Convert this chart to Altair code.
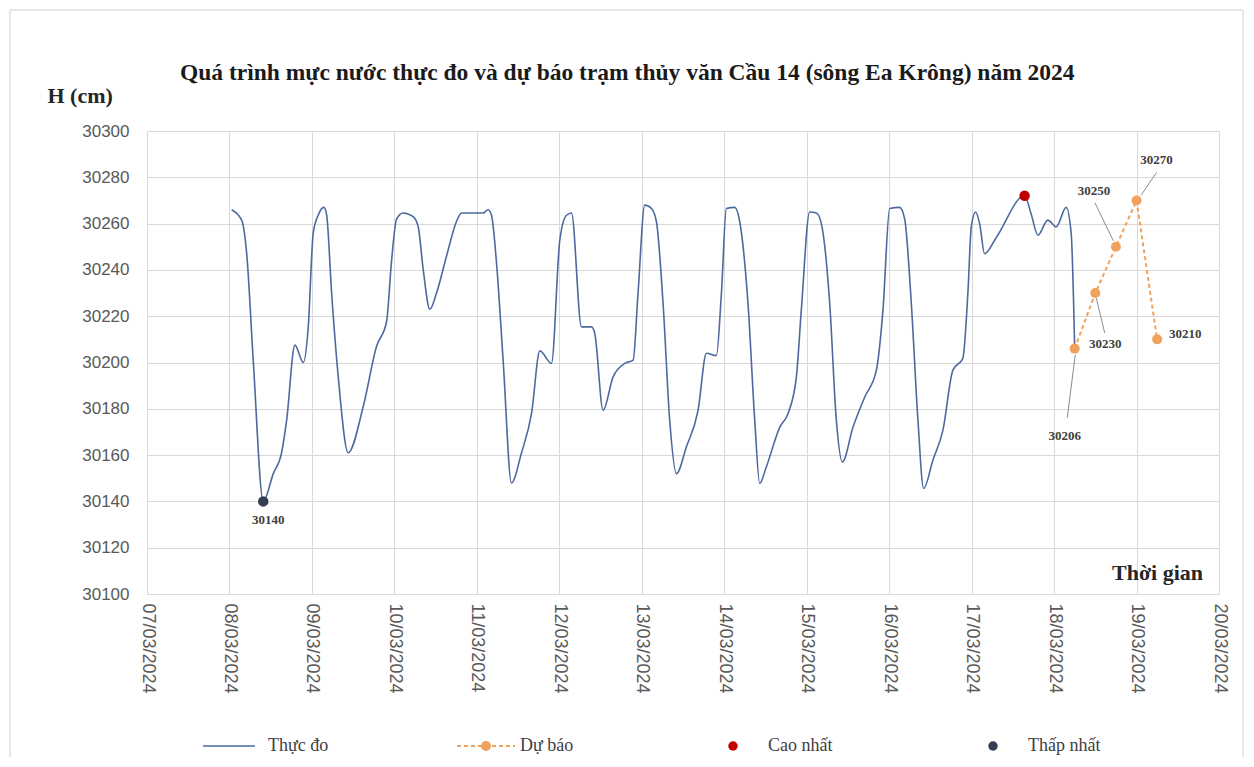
import altair as alt
import pandas as pd
import numpy as np

# ---------------- data ----------------
obs_time = [
    "2024-03-08 00:39", "2024-03-08 03:33", "2024-03-08 05:01", "2024-03-08 06:55", "2024-03-08 09:50",
    "2024-03-08 12:45", "2024-03-08 15:10", "2024-03-08 16:38", "2024-03-08 19:03", "2024-03-08 21:29",
    "2024-03-08 22:55", "2024-03-09 00:23", "2024-03-09 01:49", "2024-03-09 03:29", "2024-03-09 04:16",
    "2024-03-09 05:44", "2024-03-09 07:39", "2024-03-09 10:34", "2024-03-09 14:56", "2024-03-09 18:49",
    "2024-03-09 21:43", "2024-03-09 23:11", "2024-03-10 00:39", "2024-03-10 02:34", "2024-03-10 05:28",
    "2024-03-10 06:56", "2024-03-10 08:24", "2024-03-10 10:19", "2024-03-10 12:16", "2024-03-10 15:11",
    "2024-03-10 18:06", "2024-03-10 19:32", "2024-03-11 01:49", "2024-03-11 03:17", "2024-03-11 04:16",
    "2024-03-11 05:44", "2024-03-11 07:39", "2024-03-11 10:05", "2024-03-11 12:58", "2024-03-11 15:55",
    "2024-03-11 18:20", "2024-03-11 21:43", "2024-03-12 00:09", "2024-03-12 02:05", "2024-03-12 03:33",
    "2024-03-12 06:27", "2024-03-12 09:22", "2024-03-12 10:19", "2024-03-12 12:45", "2024-03-12 15:39",
    "2024-03-12 19:03", "2024-03-12 21:29", "2024-03-12 22:55", "2024-03-13 00:52", "2024-03-13 02:50",
    "2024-03-13 04:16", "2024-03-13 06:12", "2024-03-13 08:08", "2024-03-13 10:05", "2024-03-13 13:00",
    "2024-03-13 16:24", "2024-03-13 18:49", "2024-03-13 21:43", "2024-03-13 23:11", "2024-03-14 00:37",
    "2024-03-14 03:03", "2024-03-14 04:31", "2024-03-14 06:55", "2024-03-14 08:53", "2024-03-14 10:19",
    "2024-03-14 12:16", "2024-03-14 16:09", "2024-03-14 18:35", "2024-03-14 21:00", "2024-03-14 22:26",
    "2024-03-15 00:52", "2024-03-15 02:49", "2024-03-15 04:16", "2024-03-15 06:42", "2024-03-15 08:38",
    "2024-03-15 10:23", "2024-03-15 13:28", "2024-03-15 16:52", "2024-03-15 20:17", "2024-03-15 22:12",
    "2024-03-16 00:09", "2024-03-16 03:03", "2024-03-16 04:31", "2024-03-16 06:27", "2024-03-16 08:23",
    "2024-03-16 10:02", "2024-03-16 12:45", "2024-03-16 15:39", "2024-03-16 18:33", "2024-03-16 21:27",
    "2024-03-16 22:55", "2024-03-16 23:54", "2024-03-17 01:09", "2024-03-17 02:20", "2024-03-17 03:47",
    "2024-03-17 07:12", "2024-03-17 15:25", "2024-03-17 17:21", "2024-03-17 19:18", "2024-03-17 22:12",
    "2024-03-18 00:37", "2024-03-18 03:32", "2024-03-18 04:59", "2024-03-18 06:00",
]
obs_level = [
    30266, 30261.5, 30247, 30201, 30140,
    30152, 30161, 30175, 30207.5, 30200,
    30215, 30256, 30263.6, 30267, 30264,
    30230, 30194, 30161, 30181, 30207,
    30217.6, 30244, 30262, 30264.6, 30263,
    30258.6, 30240, 30223, 30230, 30246,
    30261, 30264.6, 30264.6, 30266, 30263.6,
    30242.8, 30201, 30148, 30160.8, 30178,
    30205, 30199.6, 30253, 30263.6, 30264.6,
    30215.4, 30215.4, 30212.6, 30179.4, 30193.8,
    30199.6, 30201, 30230, 30268, 30266.5,
    30260.8, 30225.5, 30175, 30152, 30163.6,
    30179.4, 30204, 30203, 30230, 30266.5,
    30267, 30260.8, 30225.5, 30175, 30147.8,
    30155, 30172, 30178, 30193.8, 30222.6,
    30265, 30264.6, 30260, 30225.5, 30175,
    30157, 30172, 30185, 30196.7, 30222.6,
    30266.5, 30267, 30262, 30225.5, 30175,
    30145.6, 30157.9, 30170.8, 30196.7, 30201.8,
    30230, 30258.6, 30265, 30260, 30247,
    30254, 30272, 30264, 30255, 30261.5,
    30258.6, 30267, 30255.7, 30206,
]

fc_time = ["2024-03-18 06:00", "2024-03-18 12:00", "2024-03-18 18:00", "2024-03-19 00:00", "2024-03-19 06:00"]
fc_level = [30206, 30230, 30250, 30270, 30210]

max_time = ["2024-03-17 15:25"]
max_level = [30272]
min_time = ["2024-03-08 09:50"]
min_level = [30140]

y_ticks = list(range(30100, 30301, 20))
x_days = list(range(7, 21))

title_text = "Quá trình  mực nước thực đo và dự báo trạm thủy văn Cầu 14 (sông Ea Krông) năm 2024"
legend_names = ["Thực đo", "Dự báo", "Cao nhất", "Thấp nhất"]

# ---------------- layout / style ----------------
W, H = 1072, 463
PX_PER_HOUR = W / (13 * 24)
PX_PER_CM = H / 200

BLUE = "#4D6A9E"
ORANGE = "#F0A25C"
RED = "#C00000"
DARK = "#333F50"
GRID = "#D9D9D9"
TXT = "#404040"
SERIF = "Liberation Serif"

# label placement offsets in pixels (dx, dy) for annotated values
ann_time = fc_time + min_time
ann_level = fc_level + min_level
label_off = [(-10, 87), (10, 51), (-22, -56), (20, -40), (28, -5), (5, 19)]
leader_start = [(0.6, 6), (1, 5), (-2.6, -6), (4.4, -5)]
leader_end = [(-7.4, 69), (9.4, 40), (-21, -44), (20, -28)]


def shift(times, levels, offs):
    t = pd.to_datetime(pd.Series(times))
    dx = np.array([o[0] for o in offs]) / PX_PER_HOUR
    dy = np.array([o[1] for o in offs]) / PX_PER_CM
    return t + pd.to_timedelta(dx, unit="h"), np.array(levels) - dy


obs = pd.DataFrame({"t": pd.to_datetime(obs_time), "h": obs_level})
fc = pd.DataFrame({"t": pd.to_datetime(fc_time), "h": fc_level})
mx = pd.DataFrame({"t": pd.to_datetime(max_time), "h": max_level})
mn = pd.DataFrame({"t": pd.to_datetime(min_time), "h": min_level})

lt, lh = shift(ann_time, ann_level, label_off)
ann = pd.DataFrame({"lt": lt, "lh": lh, "txt": [str(v) for v in ann_level]})

st, sh = shift(fc_time[:4], fc_level[:4], leader_start)
et, eh = shift(fc_time[:4], fc_level[:4], leader_end)
lead = pd.DataFrame({"st": st, "sh": sh, "et": et, "eh": eh})

x_scale = alt.Scale(domain=[alt.DateTime(year=2024, month=3, date=7),
                            alt.DateTime(year=2024, month=3, date=20)])
y_scale = alt.Scale(domain=[30100, 30300], nice=False, zero=False)

x_axis = alt.Axis(
    values=[alt.DateTime(year=2024, month=3, date=d) for d in x_days],
    format="%d/%m/%Y", labelAngle=90, labelAlign="left", labelBaseline="middle",
    labelFont="Liberation Sans", labelFontSize=18, labelColor="#595959", labelPadding=9,
    ticks=False, domain=False, grid=True, gridColor=GRID, labelOverlap=False,
    title="Thời gian", titleFont=SERIF, titleFontSize=22, titleFontWeight="bold",
    titleColor="#262626", titleX=1010, titleY=-22, titleAlign="center", titleBaseline="middle",
    titleAngle=0,
)
y_axis = alt.Axis(
    values=y_ticks, format="d", labelFont="Liberation Sans Narrow, Liberation Sans",
    labelFontSize=17, labelColor="#595959", labelPadding=18, ticks=False, domain=False,
    grid=True, gridColor=GRID,
    title="H (cm)", titleFont=SERIF, titleFontSize=22, titleFontWeight="bold",
    titleColor="#262626", titleAngle=0, titleX=-100, titleY=-36, titleAlign="left",
    titleBaseline="middle",
)

X = alt.X("t:T", scale=x_scale, axis=x_axis)
Y = alt.Y("h:Q", scale=y_scale, axis=y_axis)

one = pd.DataFrame({"a": [0]})

frame = alt.Chart(one).mark_rect(
    fill=None, stroke="#D0D0D0", strokeWidth=1
).encode(x=alt.value(-137), x2=alt.value(1096), y=alt.value(-121), y2=alt.value(700))

title_mark = alt.Chart(one).mark_text(
    font=SERIF, fontSize=23.5, fontWeight="bold", color="#1A1A1A", align="left",
    baseline="alphabetic"
).encode(x=alt.value(33), y=alt.value(-51), text=alt.value(title_text))

line_obs = alt.Chart(obs).mark_line(color=BLUE, strokeWidth=1.6, interpolate="monotone").encode(x=X, y=Y)

line_fc = alt.Chart(fc).mark_line(color=ORANGE, strokeWidth=2, strokeDash=[4, 3]).encode(x="t:T", y="h:Q")
pts_fc = alt.Chart(fc).mark_circle(color=ORANGE, size=100, opacity=1).encode(x="t:T", y="h:Q")
pt_max = alt.Chart(mx).mark_circle(color=RED, size=110, opacity=1).encode(x="t:T", y="h:Q")
pt_min = alt.Chart(mn).mark_circle(color=DARK, size=110, opacity=1).encode(x="t:T", y="h:Q")

leaders = alt.Chart(lead).mark_rule(color="#8C8C8C", strokeWidth=1).encode(
    x="st:T", x2="et:T", y="sh:Q", y2="eh:Q")
labels = alt.Chart(ann).mark_text(
    font=SERIF, fontSize=13, fontWeight="bold", color=TXT, align="center", baseline="middle"
).encode(x="lt:T", y="lh:Q", text="txt:N")

# ---- legend (bottom) ----
LY = 615
leg = [
    alt.Chart(one).mark_rule(color=BLUE, strokeWidth=1.6).encode(
        x=alt.value(56), x2=alt.value(108), y=alt.value(LY)),
    alt.Chart(one).mark_rule(color=ORANGE, strokeWidth=2, strokeDash=[4, 3]).encode(
        x=alt.value(310), x2=alt.value(368), y=alt.value(LY)),
    alt.Chart(one).mark_circle(color=ORANGE, size=100, opacity=1).encode(
        x=alt.value(339), y=alt.value(LY)),
    alt.Chart(one).mark_circle(color=RED, size=90, opacity=1).encode(
        x=alt.value(586), y=alt.value(LY)),
    alt.Chart(one).mark_circle(color=DARK, size=90, opacity=1).encode(
        x=alt.value(846), y=alt.value(LY)),
]
for name, lx in zip(legend_names, [121, 373, 621, 881]):
    leg.append(alt.Chart(one).mark_text(
        font=SERIF, fontSize=18, color=TXT, align="left", baseline="middle"
    ).encode(x=alt.value(lx), y=alt.value(LY), text=alt.value(name)))

chart = alt.layer(
    frame, title_mark, line_obs, line_fc, pts_fc, pt_max, pt_min, leaders, labels, *leg
).properties(
    width=W, height=H,
    autosize=alt.AutoSizeParams(type="none"),
    padding={"left": 139, "top": 123, "right": 27, "bottom": 163},
).configure_view(
    stroke="#C8C8C8", strokeWidth=1
).configure(background="white")

chart.save("out.html", embed_options={"renderer": "svg", "actions": False})
